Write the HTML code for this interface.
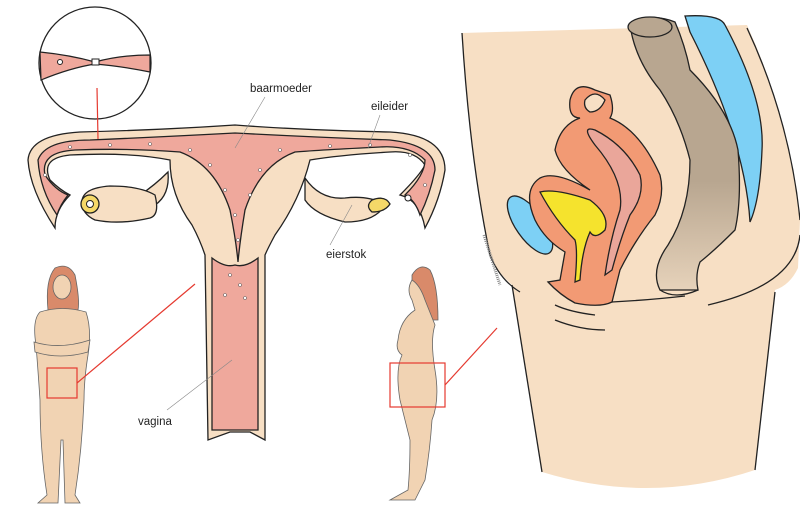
<!DOCTYPE html>
<html><head><meta charset="utf-8"><style>
html,body{margin:0;padding:0;background:#fff;width:800px;height:508px;overflow:hidden}
text{font-family:"Liberation Sans",sans-serif;font-size:11.5px;fill:#222}
</style></head><body>
<svg width="800" height="508" viewBox="0 0 800 508" xmlns="http://www.w3.org/2000/svg">
<defs><linearGradient id="rg" x1="0" y1="0" x2="0" y2="1"><stop offset="0.6" stop-color="#b8a690"/><stop offset="1" stop-color="#e6d2ba"/></linearGradient></defs>
<g stroke="#222" stroke-width="1.3">
<path d="M462,33 L747,25 Q790,120 800,220 L798,268 Q790,285 775,290 L755,470 Q650,505 542,472 L512,285 Q495,270 490,255 Q470,160 462,33 Z" fill="#f7dfc4" stroke="none"/>
<path d="M462,33 Q470,160 490,255 Q500,280 520,292" fill="none"/>
<path d="M747,28 Q790,120 800,220" fill="none"/>
<path d="M800,235 Q795,285 708,305" fill="none"/>
<path d="M775,292 L755,470" fill="none"/>
<path d="M512,285 L542,472" fill="none"/>
<path d="M685,16 Q720,14 725,25 Q765,100 762,150 Q760,200 750,222 Q745,140 690,32 Z" fill="#7dd0f5"/>
<path d="M630,25 Q650,12 675,22 Q685,45 690,70 Q730,110 738,150 Q742,200 735,230 Q715,250 700,262 Q695,275 698,290 L660,290 Q650,270 668,245 Q690,210 690,160 Q680,120 660,90 Q635,60 630,25 Z" fill="url(#rg)"/>
<path d="M660,290 Q675,300 698,290" fill="none"/>
<ellipse cx="650" cy="27" rx="22" ry="10" fill="#b8a690"/>
<ellipse cx="530" cy="225" rx="14" ry="34" transform="rotate(-35 530 225)" fill="#7dd0f5"/>
<path d="M595,90 Q575,80 570,100 Q568,118 580,118 Q560,125 555,150 Q560,170 590,190 Q555,170 540,178 Q522,190 535,220 Q545,240 565,252 L560,280 L548,282 Q560,295 575,303 Q600,308 612,302 Q615,290 620,270 Q635,240 655,215 Q665,195 660,175 Q640,130 610,118 Q615,110 610,95 Z" fill="#f29a74"/>
<path d="M595,145 Q580,125 595,130 Q625,145 640,175 Q645,195 630,215 Q620,240 612,270 L605,275 Q610,240 620,210 Q625,180 595,145 Z" fill="#eaa69a"/>
<path d="M540,192 Q555,188 590,200 Q610,215 605,230 Q595,240 590,232 Q582,250 580,280 L575,282 Q578,250 575,240 Q555,220 540,192 Z" fill="#f5e32d"/>
<path d="M585,100 Q595,88 605,100 Q600,112 590,112 Q583,108 585,100 Z" fill="#f7dfc4"/>
<path d="M555,320 Q580,330 605,330 M555,305 Q570,312 595,315" fill="none"/>
<path d="M612,302 Q650,300 685,296" fill="none"/>
<path d="M484,235 L500,285" stroke="#888" stroke-width="3" stroke-dasharray="1 1" fill="none"/>
</g>
<line x1="445" y1="385" x2="497" y2="328" stroke="#e53a30" stroke-width="1.2"/>

<g stroke="#222" stroke-width="1.3">
<path d="M140,195 Q155,185 168,172 Q170,195 155,205 Z" fill="#f7dfc4"/>
<path d="M82,202 Q82,188 110,186 Q140,186 155,195 Q160,215 150,218 Q120,225 95,220 Q82,214 82,202 Z" fill="#f7dfc4"/>
<path d="M305,178 Q320,200 345,198 Q370,195 385,205 Q375,222 345,222 Q315,215 305,200 Z" fill="#f7dfc4"/>
<path d="M28,160 Q30,135 80,132 Q160,130 235,125 Q300,130 390,132 Q445,135 445,170 Q440,200 425,228 Q420,200 400,195 Q420,175 425,165 Q415,150 390,152 Q340,155 310,160 Q300,200 275,235 Q268,248 265,255 L265,440 L250,432 L230,432 L208,440 L205,255 Q200,240 192,225 Q170,195 170,160 Q130,152 70,155 Q40,158 50,180 Q60,190 70,195 Q55,210 55,228 Q30,190 28,160 Z" fill="#f7dfc4"/>
<path d="M38,160 Q45,140 90,140 Q160,137 235,133 Q310,137 390,140 Q435,145 435,170 Q430,195 420,215 Q415,200 405,195 Q425,175 425,160 Q410,145 380,147 Q320,150 295,152 Q260,165 245,210 Q240,240 238,262 Q236,240 230,210 Q215,165 180,152 Q130,148 75,150 Q40,152 45,175 Q55,190 68,195 Q60,205 57,215 Q40,190 38,160 Z" fill="#efa89c"/>
<path d="M212,258 Q225,268 235,265 Q245,268 258,258 L258,430 L212,430 Z" fill="#efa89c"/>
<circle cx="90" cy="204" r="9" fill="#f5d868"/>
<circle cx="90" cy="204" r="3.5" fill="#fff" stroke-width="1"/>
<path d="M372,200 Q385,195 390,204 Q385,212 372,212 Q365,206 372,200 Z" fill="#f5d868"/>
<circle cx="408" cy="198" r="3" fill="#fff" stroke-width="1"/>
</g>
<g fill="#fff" stroke="#666" stroke-width="0.6">
<circle cx="70" cy="147" r="1.5"/><circle cx="110" cy="145" r="1.5"/><circle cx="150" cy="144" r="1.5"/><circle cx="190" cy="150" r="1.5"/><circle cx="210" cy="165" r="1.5"/><circle cx="225" cy="190" r="1.5"/><circle cx="235" cy="215" r="1.5"/><circle cx="238" cy="240" r="1.5"/><circle cx="230" cy="275" r="1.5"/><circle cx="240" cy="285" r="1.5"/><circle cx="225" cy="295" r="1.5"/><circle cx="245" cy="298" r="1.5"/><circle cx="280" cy="150" r="1.5"/><circle cx="260" cy="170" r="1.5"/><circle cx="250" cy="195" r="1.5"/><circle cx="330" cy="146" r="1.5"/><circle cx="370" cy="145" r="1.5"/><circle cx="410" cy="155" r="1.5"/><circle cx="425" cy="185" r="1.5"/><circle cx="45" cy="175" r="1.5"/>
</g>
<circle cx="95" cy="63" r="56" fill="#fff" stroke="#222" stroke-width="1.3"/>
<path d="M40,52 Q70,55 95,62 Q120,55 150,55 L150,72 Q120,66 95,64 Q70,68 41,80 Z" fill="#efa89c" stroke="#222" stroke-width="1.2"/>
<rect x="92" y="59" width="7" height="6" fill="#fff" stroke="#222"/>
<circle cx="60" cy="62" r="2.5" fill="#fff" stroke="#222"/>
<line x1="97" y1="88" x2="98" y2="139" stroke="#e53a30" stroke-width="1.2"/>
<g stroke="#888" stroke-width="0.6"><line x1="265" y1="97" x2="235" y2="148"/><line x1="380" y1="115" x2="368" y2="148"/><line x1="352" y1="205" x2="330" y2="245"/><line x1="232" y1="360" x2="167" y2="410"/></g>
<text x="250" y="92">baarmoeder</text><text x="371" y="110">eileider</text><text x="326" y="258">eierstok</text><text x="138" y="425">vagina</text>
<g stroke="#666" stroke-width="0.8">
<path d="M48,310 Q45,280 55,268 Q68,262 75,275 Q80,300 78,310 Z" fill="#d98a6a"/>
<ellipse cx="62" cy="287" rx="9" ry="12" fill="#f1d3b3"/>
<path d="M40,312 Q62,305 86,312 Q92,330 88,355 Q84,380 84,400 Q82,450 75,495 L80,503 L65,503 L63,440 L61,440 L58,503 L38,503 L47,495 Q40,450 40,400 Q38,370 36,345 Q32,320 40,312 Z" fill="#f1d3b3"/>
<path d="M34,342 Q60,350 90,340 L88,352 Q60,360 35,352 Z" fill="#f1d3b3"/>
</g>
<rect x="47" y="368" width="30" height="30" fill="none" stroke="#e53a30" stroke-width="1.2"/>
<line x1="77" y1="383" x2="195" y2="284" stroke="#e53a30" stroke-width="1.2"/>
<g stroke="#666" stroke-width="0.8">
<path d="M412,275 Q420,262 430,270 Q438,285 438,320 L430,320 Q420,300 412,290 Z" fill="#d98a6a"/>
<path d="M412,280 Q406,290 412,300 L415,310 Q400,320 398,340 Q395,350 402,355 Q395,370 400,400 Q405,420 410,440 Q410,470 408,490 L390,500 L415,500 L425,480 Q430,450 432,420 Q440,400 435,370 Q430,340 435,325 L425,300 Q420,285 412,280 Z" fill="#f1d3b3"/>
</g>
<rect x="390" y="363" width="55" height="44" fill="none" stroke="#e53a30" stroke-width="1.2"/>
</svg>
</body></html>
